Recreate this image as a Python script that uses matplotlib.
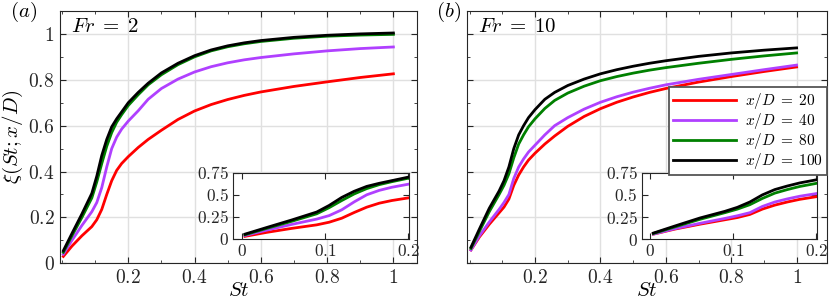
import numpy as np
import matplotlib
matplotlib.use("Agg")
import matplotlib.pyplot as plt
from matplotlib.ticker import FuncFormatter, MultipleLocator

plt.rcParams['mathtext.fontset'] = 'cm'
plt.rcParams['font.family'] = ['DejaVu Serif']

# Strouhal number grid
St = [0.004, 0.03, 0.06, 0.09, 0.105, 0.12, 0.135, 0.15, 0.165, 0.18, 0.2,
      0.23, 0.26, 0.3, 0.35, 0.4, 0.45, 0.5, 0.55, 0.6, 0.7, 0.8, 0.9, 1.0]

labels = [r'$x/D\;=\;20$', r'$x/D\;=\;40$', r'$x/D\;=\;80$', r'$x/D\;=\;100$']
colors = ['#ff0000', '#b040ff', '#008000', '#000000']

# Fr = 2
a_xd20 = [0.03, 0.075, 0.12, 0.16, 0.19, 0.235, 0.30, 0.36, 0.405, 0.435, 0.465,
          0.505, 0.54, 0.58, 0.627, 0.664, 0.692, 0.714, 0.732, 0.747, 0.771, 0.791, 0.81, 0.826]
a_xd40 = [0.04, 0.10, 0.165, 0.225, 0.265, 0.33, 0.42, 0.50, 0.55, 0.585, 0.62,
          0.665, 0.715, 0.762, 0.803, 0.834, 0.857, 0.874, 0.887, 0.897, 0.913, 0.926, 0.936, 0.943]
a_xd80 = [0.048, 0.12, 0.20, 0.285, 0.355, 0.435, 0.51, 0.57, 0.615, 0.648, 0.688,
          0.735, 0.778, 0.822, 0.866, 0.90, 0.926, 0.944, 0.957, 0.967, 0.981, 0.99, 0.995, 0.998]
a_xd100 = [0.055, 0.13, 0.215, 0.305, 0.38, 0.47, 0.54, 0.595, 0.63, 0.66, 0.70,
           0.745, 0.785, 0.83, 0.872, 0.905, 0.93, 0.948, 0.961, 0.971, 0.985, 0.994, 1.0, 1.004]

# Fr = 10
b_xd20 = [0.058, 0.115, 0.17, 0.22, 0.245, 0.28, 0.34, 0.385, 0.42, 0.45, 0.48,
          0.52, 0.555, 0.597, 0.64, 0.674, 0.702, 0.725, 0.745, 0.762, 0.79, 0.814, 0.836, 0.856]
b_xd40 = [0.058, 0.12, 0.18, 0.235, 0.265, 0.30, 0.37, 0.42, 0.455, 0.485, 0.515,
          0.56, 0.60, 0.635, 0.672, 0.702, 0.726, 0.746, 0.763, 0.778, 0.802, 0.823, 0.844, 0.864]
b_xd80 = [0.065, 0.14, 0.225, 0.30, 0.34, 0.39, 0.46, 0.52, 0.56, 0.595, 0.63,
          0.675, 0.71, 0.742, 0.772, 0.796, 0.814, 0.829, 0.842, 0.853, 0.872, 0.889, 0.904, 0.917]
b_xd100 = [0.07, 0.15, 0.24, 0.315, 0.36, 0.42, 0.50, 0.56, 0.60, 0.635, 0.67,
           0.715, 0.745, 0.775, 0.803, 0.826, 0.844, 0.859, 0.872, 0.883, 0.902, 0.917, 0.929, 0.939]

panels = [
    dict(series=[a_xd20, a_xd40, a_xd80, a_xd100], fr=r'$Fr\;=\;2$', tag=r'$(a)$',
         rect=[0.0723, 0.1423, 0.430, 0.822], xlim=(-0.006, 1.071),
         inset=[0.2811, 0.2215, 0.2120, 0.216]),
    dict(series=[b_xd20, b_xd40, b_xd80, b_xd100], fr=r'$Fr\;=\;10$', tag=r'$(b)$',
         rect=[0.5623, 0.1423, 0.4337, 0.822], xlim=(-0.009, 1.092),
         inset=[0.7731, 0.2205, 0.2116, 0.217]),
]

axcol = '#262626'
fmt = FuncFormatter(lambda v, p: '$%g$' % round(v, 3))

def style(ax, fs):
    for s in ax.spines.values():
        s.set_color(axcol)
        s.set_linewidth(0.8)
    ax.tick_params(which='both', direction='in', top=True, right=True,
                   colors=axcol, labelsize=fs, pad=4)
    ax.tick_params(which='major', length=4)
    ax.tick_params(which='minor', length=2.5)

fig = plt.figure(figsize=(8.3, 3.07), dpi=100)

for i, p in enumerate(panels):
    ax = fig.add_axes(p['rect'])
    handles = []
    for y, c, lab in zip(p['series'], colors, labels):
        h, = ax.plot(St, y, color=c, lw=2, label=lab)
        handles.append(h)
    ax.set_xlim(*p['xlim'])
    ax.set_ylim(0, 1.1)
    ax.set_xticks([0.2, 0.4, 0.6, 0.8, 1.0])
    ax.set_yticks([0, 0.2, 0.4, 0.6, 0.8, 1.0])
    ax.xaxis.set_minor_locator(MultipleLocator(0.1))
    ax.yaxis.set_minor_locator(MultipleLocator(0.1))
    ax.xaxis.set_major_formatter(fmt)
    ax.yaxis.set_major_formatter(fmt)
    ax.grid(True, which='major', color='#e0e0e0', lw=1)
    ax.set_axisbelow(True)
    style(ax, 14)
    ax.set_xlabel(r'$St$', fontsize=15, labelpad=-4)
    if i == 0:
        ax.set_ylabel(r'$\xi(St; x/D)$', fontsize=15, labelpad=2)
    else:
        ax.tick_params(labelleft=False)
    ax.text(0.03, 0.975, p['fr'], transform=ax.transAxes, fontsize=15,
            ha='left', va='top')
    ax.text(-0.14 if i == 0 else -0.085, 1.045, p['tag'], transform=ax.transAxes,
            fontsize=15, ha='left', va='top')

    ins = fig.add_axes(p['inset'])
    for y, c in zip(p['series'], colors):
        ins.plot(St, y, color=c, lw=2)
    ins.set_xlim(-0.01, 0.201)
    ins.set_ylim(0, 0.75)
    ins.set_xticks([0, 0.1, 0.2])
    ins.set_yticks([0, 0.25, 0.5, 0.75])
    ins.xaxis.set_major_formatter(fmt)
    ins.yaxis.set_major_formatter(fmt)
    style(ins, 12.5)
    ins.tick_params(pad=3)

    if i == 1:
        leg = ins.legend(handles, labels, loc='upper right',
                         bbox_to_anchor=(1.0, 0.697), bbox_transform=ax.transAxes,
                         fontsize=11, handlelength=4.1, fancybox=False,
                         edgecolor='#555555', framealpha=1, borderpad=0.25,
                         labelspacing=0.0, handletextpad=0.6, borderaxespad=0)
        leg.get_frame().set_linewidth(1.3)

fig.savefig('out.png', dpi=100)
